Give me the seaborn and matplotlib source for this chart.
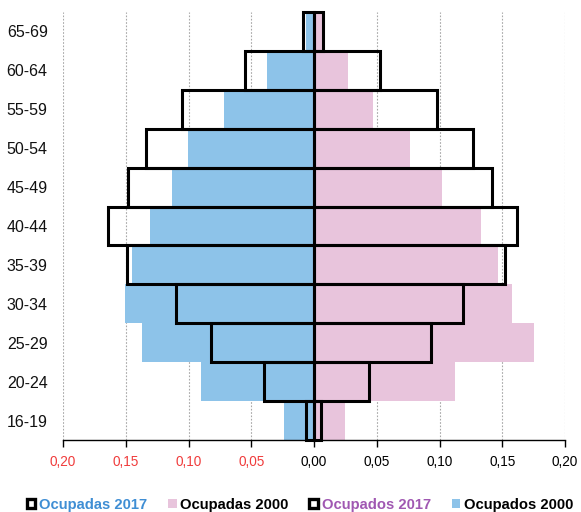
import numpy as np
import pandas as pd
import matplotlib
matplotlib.use("Agg")
import matplotlib.pyplot as plt
from matplotlib.patches import Patch
from matplotlib.ticker import FixedLocator, FuncFormatter
import seaborn as sns

sns.set_theme(style="white")
plt.rcParams['font.family'] = ['Liberation Sans', 'DejaVu Sans']

categories = ["65-69", "60-64", "55-59", "50-54", "45-49", "40-44",
              "35-39", "30-34", "25-29", "20-24", "16-19"]
ocupados_2000 = [0.006, 0.0375, 0.072, 0.1007, 0.1134, 0.131, 0.1448, 0.1509, 0.137, 0.090, 0.0241]
ocupados_2017 = [0.0085, 0.055, 0.1054, 0.134, 0.148, 0.164, 0.149, 0.110, 0.0823, 0.0396, 0.0066]
ocupadas_2000 = [0.006, 0.027, 0.047, 0.0765, 0.1017, 0.133, 0.1469, 0.158, 0.1755, 0.112, 0.0247]
ocupadas_2017 = [0.007, 0.0526, 0.098, 0.1264, 0.142, 0.162, 0.152, 0.119, 0.093, 0.044, 0.0053]
xticks = [-0.20, -0.15, -0.10, -0.05, 0.0, 0.05, 0.10, 0.15, 0.20]
legend_labels = ["Ocupadas 2017", "Ocupadas 2000", "Ocupados 2017", "Ocupados 2000"]

BLUE = "#8DC3E9"
PINK = "#E8C4DC"

df = pd.DataFrame({
    "grupo": categories,
    "m2000": -np.array(ocupados_2000),
    "m2017": -np.array(ocupados_2017),
    "f2000": np.array(ocupadas_2000),
    "f2017": np.array(ocupadas_2017),
})

fig = plt.figure(figsize=(5.81, 5.12), dpi=100)
ax = fig.add_axes([63/581, 1-440/512, (565-63)/581, (440-12)/512])

sns.barplot(data=df, x="m2000", y="grupo", orient="h", color=BLUE, saturation=1,
            width=1, linewidth=0, errorbar=None, ax=ax)
sns.barplot(data=df, x="f2000", y="grupo", orient="h", color=PINK, saturation=1,
            width=1, linewidth=0, errorbar=None, ax=ax)
n_fill = len(ax.patches)
sns.barplot(data=df, x="m2017", y="grupo", orient="h", color="black", fill=False,
            width=1, linewidth=2.2, errorbar=None, ax=ax)
sns.barplot(data=df, x="f2017", y="grupo", orient="h", color="black", fill=False,
            width=1, linewidth=2.2, errorbar=None, ax=ax)
for p in ax.patches[n_fill:]:
    p.set_clip_on(False)
    p.set_zorder(3)
    p.set_joinstyle("miter")

ax.set_xlim(-0.20, 0.20)
ax.set_ylim(len(categories) - 0.5, -0.5)
ax.xaxis.set_major_locator(FixedLocator(xticks))
ax.xaxis.set_major_formatter(FuncFormatter(lambda v, pos: f"{abs(v):.2f}".replace(".", ",")))
ax.grid(axis="x", linestyle=(0, (1.5, 1.5)), color="#a8a8a8", linewidth=0.8)
ax.grid(axis="y", visible=False)
ax.set_axisbelow(True)
for s in ["top", "left", "right"]:
    ax.spines[s].set_visible(False)
ax.spines["bottom"].set_color("black")
ax.spines["bottom"].set_linewidth(1.0)
ax.tick_params(axis="x", direction="out", length=5, width=1, color="black",
               labelsize=9.8, pad=6, bottom=True)
ax.tick_params(axis="y", length=0, labelsize=11.5, pad=11)
for lbl, v in zip(ax.get_xticklabels(), xticks):
    lbl.set_color("#F03C3C" if v < 0 else "black")
for lbl in ax.get_yticklabels():
    lbl.set_color("#111111")
ax.set_xlabel("")
ax.set_ylabel("")

handles = [
    Patch(facecolor="white", edgecolor="black", linewidth=2.4),
    Patch(facecolor=PINK, edgecolor="none"),
    Patch(facecolor="white", edgecolor="black", linewidth=2.4),
    Patch(facecolor=BLUE, edgecolor="none"),
]
leg = fig.legend(handles, legend_labels, loc="center", bbox_to_anchor=(300/581, 1-505/512),
                 ncol=4, frameon=False, prop={"weight": "bold", "size": 10.6},
                 handlelength=0.6, handleheight=0.6, handletextpad=0.25,
                 columnspacing=1.4, borderaxespad=0)
text_colors = ["#3F8ED4", "black", "#A058B2", "black"]
for t, c in zip(leg.get_texts(), text_colors):
    t.set_color(c)

fig.savefig("out.png", dpi=100)
